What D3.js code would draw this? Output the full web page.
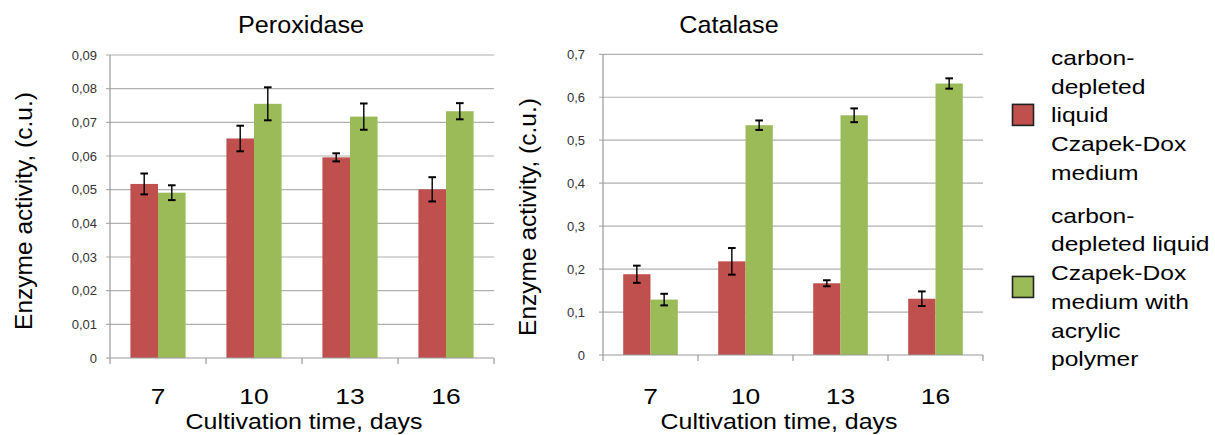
<!DOCTYPE html>
<html><head><meta charset="utf-8">
<script src="https://cdn.jsdelivr.net/npm/d3@7"></script>
<style>body{margin:0;background:#fff}svg{display:block;font-family:"Liberation Sans",Arial,sans-serif}</style>
</head><body><svg id="c" width="1215" height="435"></svg>
<script>
const days = ["7","10","13","16"];
const seriesNames = ["carbon-depleted liquid Czapek-Dox medium","carbon-depleted liquid Czapek-Dox medium with acrylic polymer"];
const peroxRed = [0.0517,0.0652,0.0596,0.0501];
const peroxRedErr = [0.0031,0.0038,0.0012,0.0036];
const peroxGreen = [0.0491,0.0755,0.0717,0.0733];
const peroxGreenErr = [0.0022,0.0049,0.0039,0.0024];
const catRed = [0.188,0.218,0.167,0.131];
const catRedErr = [0.020,0.031,0.007,0.017];
const catGreen = [0.129,0.535,0.558,0.632];
const catGreenErr = [0.0135,0.011,0.016,0.012];
const peroxTicks = [0,0.01,0.02,0.03,0.04,0.05,0.06,0.07,0.08,0.09];
const catTicks = [0,0.1,0.2,0.3,0.4,0.5,0.6,0.7];
const legendLines = [["carbon-","depleted","liquid","Czapek-Dox","medium"],["carbon-","depleted liquid","Czapek-Dox","medium with","acrylic","polymer"]];
const colors = ["#C0504D","#9BBB59"];

const svg = d3.select("#c");
const SX = 1.2;
function stext(g, x, y, str, size, anchor, sx) {
  return g.append("text").attr("transform", `translate(${x},${y}) scale(${sx},1)`)
    .attr("text-anchor", anchor).attr("font-size", size).attr("fill", "#000").text(str);
}

function chart(cfg) {
  const g = svg.append("g");
  const y = d3.scaleLinear().domain(cfg.domain).range([cfg.y0, cfg.y1]);
  const x = d3.scaleBand().domain(days).range([cfg.x0, cfg.x1]);
  const xs = d3.scaleBand().domain([0,1]).range([0, x.bandwidth()]).paddingOuter(0.74);
  // gridlines
  g.selectAll("line.grid").data(cfg.ticks.slice(1)).join("line")
    .attr("x1", cfg.x0 - 4).attr("x2", cfg.x1).attr("y1", d=>y(d)).attr("y2", d=>y(d))
    .attr("stroke", "#b0b0b0").attr("stroke-width", 1.2);
  // y tick labels
  g.selectAll("text.yt").data(cfg.ticks).join("text")
    .attr("x", cfg.x0 - cfg.labGap).attr("y", d=>y(d)+4.5).attr("text-anchor","end")
    .attr("font-size", 13).attr("fill", "#333").text(d=>cfg.fmt(d));
  // bars
  const series = [cfg.red, cfg.green];
  const errs = [cfg.redErr, cfg.greenErr];
  series.forEach((vals, si) => {
    g.selectAll("rect.s"+si).data(vals).join("rect")
      .attr("x", (d,i)=>x(days[i]) + xs(si)).attr("width", xs.bandwidth())
      .attr("y", d=>y(d)).attr("height", d=>y(0)-y(d)).attr("fill", colors[si]);
  });
  series.forEach((vals, si) => {
    vals.forEach((v,i) => {
      const cx = x(days[i]) + xs(si) + xs.bandwidth()/2;
      const e = errs[si][i];
      g.append("line").attr("x1",cx).attr("x2",cx).attr("y1",y(v+e)).attr("y2",y(v-e)).attr("stroke","#000").attr("stroke-width",1.4);
      [v+e, v-e].forEach(t => g.append("line").attr("x1",cx-3.8).attr("x2",cx+3.8).attr("y1",y(t)).attr("y2",y(t)).attr("stroke","#000").attr("stroke-width",2));
    });
  });
  // axes
  g.append("line").attr("x1",cfg.x0).attr("x2",cfg.x0).attr("y1",y(cfg.domain[1])).attr("y2",y(0)+6).attr("stroke","#999").attr("stroke-width",1.2);
  g.append("line").attr("x1",cfg.x0-4).attr("x2",cfg.x1).attr("y1",y(0)).attr("y2",y(0)).attr("stroke","#999").attr("stroke-width",1.2);
  days.forEach((d,i) => {
    if (i>0) g.append("line").attr("x1",x(d)).attr("x2",x(d)).attr("y1",y(0)).attr("y2",y(0)+6).attr("stroke","#999").attr("stroke-width",1.2);
  });
  g.append("line").attr("x1",cfg.x1).attr("x2",cfg.x1).attr("y1",y(0)).attr("y2",y(0)+6).attr("stroke","#999").attr("stroke-width",1.2);
  // x labels
  days.forEach(d => stext(g, x(d)+x.bandwidth()/2, 404, d, 22, "middle", SX));
  stext(g, (cfg.x0+cfg.x1)/2 + cfg.xtOff, 429, "Cultivation time, days", 21.5, "middle", 1.16);
  // title
  stext(g, cfg.titleX, 33, cfg.title, 24, "middle", 1.05);
  // y title
  g.append("text").attr("transform", `translate(${cfg.ytX},${cfg.ytY}) rotate(-90)`)
    .attr("text-anchor","middle").attr("font-size",24.5).attr("fill","#000").text("Enzyme activity, (c.u.)");
}

chart({domain:[0,0.09], y0:358, y1:55, x0:110, x1:494, ticks:peroxTicks,
  fmt:d=> d===0?"0":d3.format(".2f")(d).replace(".",","), labGap:13,
  red:peroxRed, redErr:peroxRedErr, green:peroxGreen, greenErr:peroxGreenErr,
  title:"Peroxidase", titleX:301, ytX:32, ytY:211, xtOff:2});
chart({domain:[0,0.7], y0:355, y1:54.3, x0:603, x1:983, ticks:catTicks,
  fmt:d=> d===0?"0":d3.format(".1f")(d).replace(".",","), labGap:18,
  red:catRed, redErr:catRedErr, green:catGreen, greenErr:catGreenErr,
  title:"Catalase", titleX:729, ytX:536, ytY:217, xtOff:-14});

// legend
const lg = svg.append("g");
const lineH = 28.7;
const starts = [65, 222.7];
legendLines.forEach((lines, si) => {
  const sq = starts[si] + (lines.length-1)*lineH/2 - 7;
  lg.append("rect").attr("x",1012.5).attr("y",sq-11).attr("width",21).attr("height",21)
    .attr("fill",colors[si]).attr("stroke","#222").attr("stroke-width",1.6);
  lines.forEach((t,li) => stext(lg, 1051, starts[si]+li*lineH, t, 20.5, "start", 1.2));
});
</script></body></html>
